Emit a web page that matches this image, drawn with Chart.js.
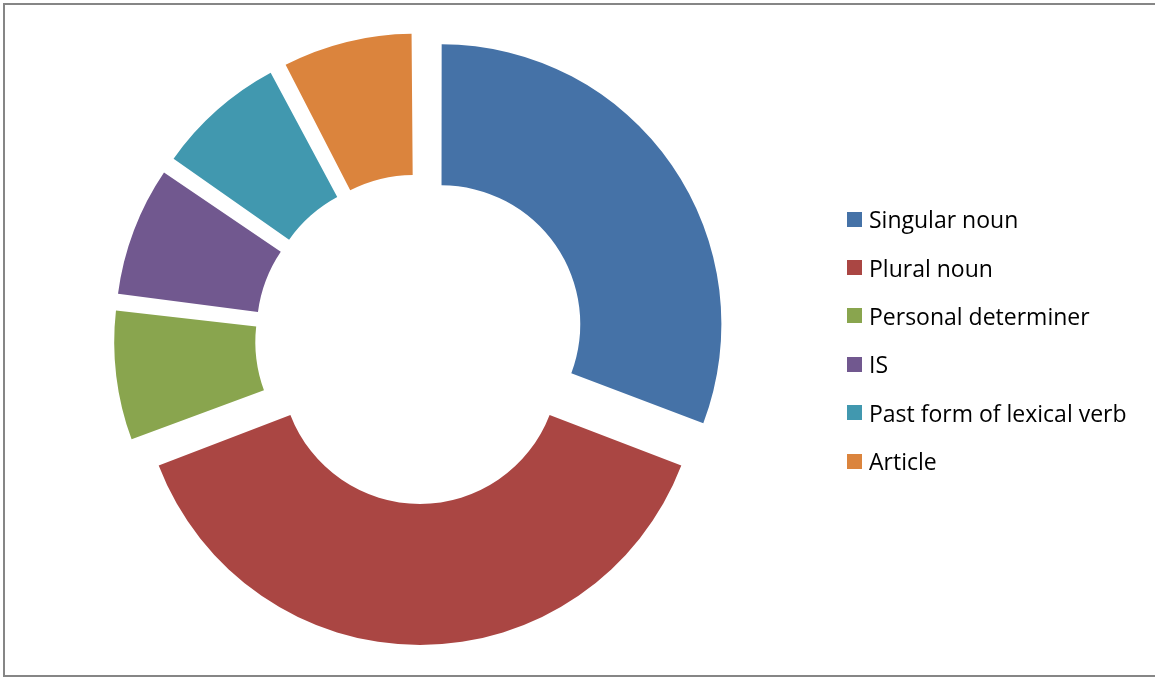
<!DOCTYPE html>
<html>
<head>
<meta charset="utf-8">
<script src="https://cdn.jsdelivr.net/npm/chart.js@4/dist/chart.umd.min.js"></script>
<style>
  html, body { margin: 0; padding: 0; background: #fff; overflow: hidden; width: 1155px; height: 677px; }
  #frame {
    position: absolute; left: 3px; top: 3px; width: 1300px; height: 674px;
    border: 2px solid #868686; border-right: none; box-sizing: border-box;
  }
  #wrap { position: absolute; left: 0; top: 0; width: 1155px; height: 677px; }
  #legend {
    position: absolute; left: 847px; top: 195px; margin: 0; padding: 0; list-style: none;
    font-family: "Open Sans", Lato, sans-serif; font-size: 23px; color: #000;
  }
  #legend li { height: 48.4px; display: flex; align-items: center; white-space: nowrap; }
  #legend .box { width: 15px; height: 15px; margin-right: 7px; flex: none; }
</style>
</head>
<body>
<div id="frame"></div>
<div id="wrap"><canvas id="chart"></canvas></div>
<ul id="legend"></ul>
<script>
// Word classes and their counts
const categories = ['Singular noun', 'Plural noun', 'Personal determiner', 'IS', 'Past form of lexical verb', 'Article'];
const counts = [4, 5, 1, 1, 1, 1];
const colors = ['#4572A7', '#AA4643', '#89A54E', '#71588F', '#4198AF', '#DB843D'];

// Exploded slices keep their own radius (no radius growth for narrow slices)
const Arc = (Chart.elements && Chart.elements.ArcElement) || Chart.ArcElement;
if (Arc) {
  const baseDraw = Arc.prototype.draw;
  Arc.prototype.draw = function (ctx) {
    const off = (this.options.offset || 0) / 4;
    const fix = 1 - Math.sin(Math.min(Math.PI, this.circumference || 0));
    const d = off * fix;
    const o = this.outerRadius, i = this.innerRadius;
    this.outerRadius = o - d;
    this.innerRadius = i > 0 ? i - d : i;
    baseDraw.call(this, ctx);
    this.outerRadius = o;
    this.innerRadius = i;
  };
}

new Chart(document.getElementById('chart'), {
  type: 'doughnut',
  data: {
    labels: categories,
    datasets: [{
      data: counts,
      backgroundColor: colors,
      borderWidth: 0,
      hoverBorderWidth: 0,
      offset: 104,
      hoverOffset: 104
    }]
  },
  options: {
    responsive: true,
    maintainAspectRatio: false,
    animation: false,
    cutout: '49.6%',
    layout: { padding: { left: 88, top: 7, right: 403, bottom: 6 } },
    plugins: { legend: { display: false }, tooltip: { enabled: false } },
    events: []
  }
});

// Legend
const legend = document.getElementById('legend');
categories.forEach((name, k) => {
  const li = document.createElement('li');
  const box = document.createElement('span');
  box.className = 'box';
  box.style.background = colors[k];
  li.appendChild(box);
  li.appendChild(document.createTextNode(name));
  legend.appendChild(li);
});
</script>
</body>
</html>
